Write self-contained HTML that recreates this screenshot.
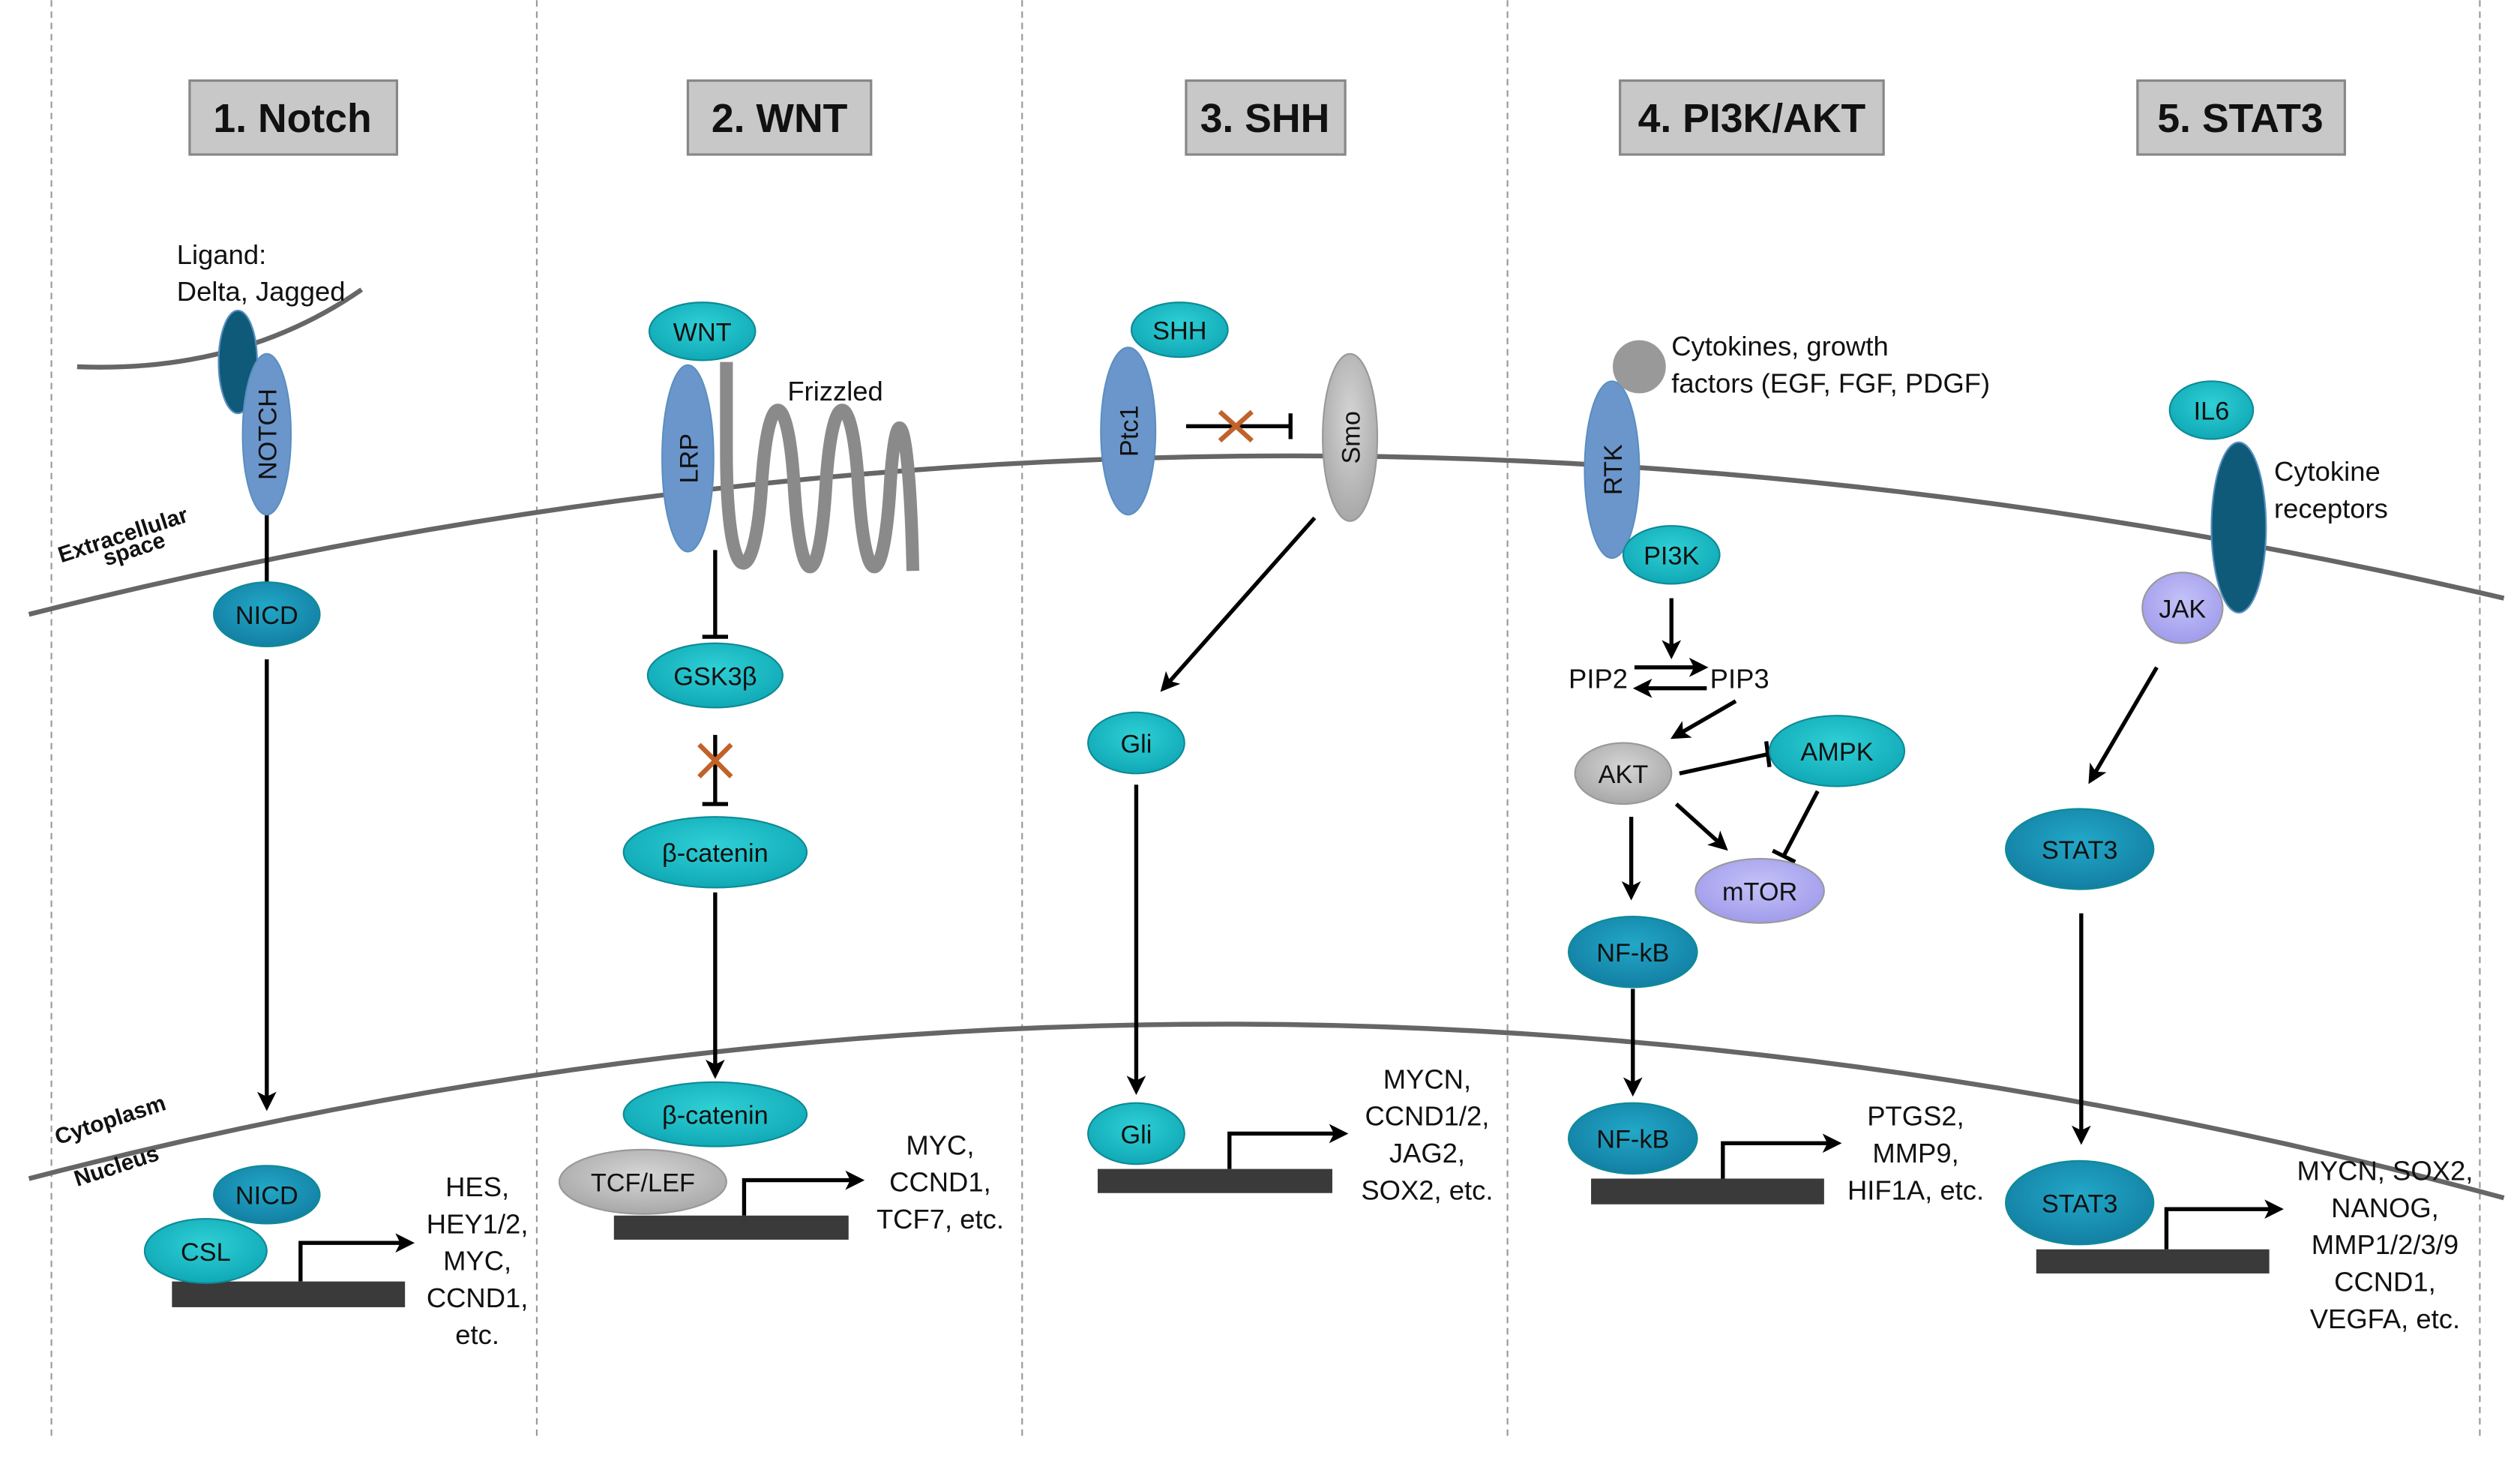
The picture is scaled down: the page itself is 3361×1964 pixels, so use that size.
<!DOCTYPE html>
<html><head><meta charset="utf-8"><style>
html,body{margin:0;padding:0;background:#fff;}
svg{display:block;}
text{font-family:"Liberation Sans",sans-serif;fill:#111;}
</style></head><body>
<svg width="3361" height="1964" viewBox="0 0 1568 916" xmlns="http://www.w3.org/2000/svg">
<defs>
<marker id="ar" markerWidth="14" markerHeight="14" refX="9" refY="6" orient="auto" markerUnits="userSpaceOnUse"><path d="M0,0 L12,6 L0,12 L3,6 z" fill="#000"/></marker>
<radialGradient id="teal" cx="50%" cy="40%" r="60%"><stop offset="0" stop-color="#2fd0d6"/><stop offset="1" stop-color="#10a9b6"/></radialGradient>
<radialGradient id="blue2" cx="50%" cy="40%" r="60%"><stop offset="0" stop-color="#22a8c8"/><stop offset="1" stop-color="#137fa3"/></radialGradient>
<radialGradient id="gray" cx="50%" cy="40%" r="60%"><stop offset="0" stop-color="#d6d6d6"/><stop offset="1" stop-color="#a8a8a8"/></radialGradient>
<radialGradient id="lav" cx="50%" cy="40%" r="60%"><stop offset="0" stop-color="#c4c2f8"/><stop offset="1" stop-color="#a09cec"/></radialGradient>
</defs>
<g stroke="#999" stroke-width="1" stroke-dasharray="4,3">
<line x1="32" y1="0" x2="32" y2="895"/><line x1="334" y1="0" x2="334" y2="895"/><line x1="636" y1="0" x2="636" y2="895"/><line x1="938" y1="0" x2="938" y2="895"/><line x1="1543" y1="0" x2="1543" y2="895"/>
</g>
<g fill="#c8c8c8" stroke="#888" stroke-width="1.5">
<rect x="118" y="50" width="129" height="46"/><rect x="428" y="50" width="114" height="46"/><rect x="738" y="50" width="99" height="46"/><rect x="1008" y="50" width="164" height="46"/><rect x="1330" y="50" width="129" height="46"/>
</g>
<g font-size="25" font-weight="bold" text-anchor="middle">
<text x="182" y="82">1. Notch</text><text x="485" y="82">2. WNT</text><text x="787" y="82">3. SHH</text><text x="1090" y="82">4. PI3K/AKT</text><text x="1394" y="82">5. STAT3</text>
</g>
<g fill="none" stroke="#666" stroke-width="3">
<path d="M18,382 Q780,190 1558,372"/>
<path d="M18,733 Q780,535 1558,745"/>
<path d="M48,228 Q150,232 225,180"/>
</g>
<g font-size="14" font-weight="bold">
<text transform="translate(38,350) rotate(-18)">Extracellular</text>
<text transform="translate(66,352) rotate(-18)">space</text>
<text transform="translate(36,712) rotate(-18)">Cytoplasm</text>
<text transform="translate(48,738) rotate(-18)">Nucleus</text>
</g>
<g stroke="#000" stroke-width="2.5" fill="none">
<line x1="166" y1="320" x2="166" y2="362"/>
<line x1="166" y1="410" x2="166" y2="688" marker-end="url(#ar)"/>
<path d="M187,797 V773 H255" marker-end="url(#ar)"/>
<line x1="445" y1="342" x2="445" y2="396"/><line x1="437" y1="396" x2="453" y2="396"/>
<line x1="445" y1="457" x2="445" y2="500"/><line x1="437" y1="500" x2="453" y2="500"/>
<line x1="445" y1="555" x2="445" y2="668" marker-end="url(#ar)"/>
<path d="M463,756 V734 H535" marker-end="url(#ar)"/>
<line x1="738" y1="265" x2="803" y2="265"/><line x1="803" y1="257" x2="803" y2="273"/>
<line x1="818" y1="322" x2="724" y2="428" marker-end="url(#ar)"/>
<line x1="707" y1="488" x2="707" y2="678" marker-end="url(#ar)"/>
<path d="M765,727 V705 H836" marker-end="url(#ar)"/>
<line x1="1040" y1="372" x2="1040" y2="407" marker-end="url(#ar)"/>
<line x1="1017" y1="415" x2="1060" y2="415" marker-end="url(#ar)"/>
<line x1="1062" y1="428" x2="1019" y2="428" marker-end="url(#ar)"/>
<line x1="1080" y1="436" x2="1042" y2="458" marker-end="url(#ar)"/>
<line x1="1045" y1="481" x2="1100" y2="469"/><line x1="1099" y1="461" x2="1101" y2="477"/>
<line x1="1131" y1="492" x2="1110" y2="532"/><line x1="1103" y1="529" x2="1117" y2="536"/>
<line x1="1043" y1="500" x2="1073" y2="527" marker-end="url(#ar)"/>
<line x1="1015" y1="508" x2="1015" y2="557" marker-end="url(#ar)"/>
<line x1="1016" y1="615" x2="1016" y2="679" marker-end="url(#ar)"/>
<path d="M1072,733 V711 H1143" marker-end="url(#ar)"/>
<line x1="1342" y1="415" x2="1301" y2="485" marker-end="url(#ar)"/>
<line x1="1295" y1="568" x2="1295" y2="709" marker-end="url(#ar)"/>
<path d="M1348,777 V752 H1418" marker-end="url(#ar)"/>
</g>
<g stroke="#c0622a" stroke-width="3">
<line x1="435" y1="463" x2="455" y2="483"/><line x1="455" y1="463" x2="435" y2="483"/>
<line x1="759" y1="256" x2="779" y2="274"/><line x1="779" y1="256" x2="759" y2="274"/>
</g>
<g fill="#3a3a3a">
<rect x="107" y="797" width="145" height="16"/><rect x="382" y="756" width="146" height="15"/><rect x="683" y="727" width="146" height="15"/><rect x="990" y="733" width="145" height="16"/><rect x="1267" y="777" width="145" height="15"/>
</g>
<path d="M452,225 L452,280 C452,370 470,370 474,300 C478,240 490,240 494,300 C498,370 510,370 514,300 C518,240 530,240 534,300 C538,370 550,370 554,300 C558,240 566,260 568,355" fill="none" stroke="#8a8a8a" stroke-width="8"/>
<g stroke="#5a8fc0" stroke-width="1">
<ellipse cx="148" cy="225" rx="12" ry="32" fill="#0f5a78"/>
<ellipse cx="166" cy="270" rx="15" ry="50" fill="#6b96cc"/>
<ellipse cx="428" cy="285" rx="16" ry="58" fill="#6b96cc"/>
<ellipse cx="702" cy="268" rx="17" ry="52" fill="#6b96cc"/>
<ellipse cx="1003" cy="292" rx="17" ry="55" fill="#6b96cc"/>
<ellipse cx="1393" cy="328" rx="17" ry="53" fill="#0f5a78"/>
</g>
<g stroke="#0e8a96" stroke-width="1">
<ellipse cx="166" cy="382" rx="33" ry="20" fill="url(#blue2)"/>
<ellipse cx="166" cy="743" rx="33" ry="18" fill="url(#blue2)"/>
<ellipse cx="128" cy="778" rx="38" ry="20" fill="url(#teal)"/>
<ellipse cx="437" cy="206" rx="33" ry="18" fill="url(#teal)"/>
<ellipse cx="445" cy="420" rx="42" ry="20" fill="url(#teal)"/>
<ellipse cx="445" cy="530" rx="57" ry="22" fill="url(#teal)"/>
<ellipse cx="445" cy="693" rx="57" ry="20" fill="url(#teal)"/>
<ellipse cx="734" cy="205" rx="30" ry="17" fill="url(#teal)"/>
<ellipse cx="707" cy="462" rx="30" ry="19" fill="url(#teal)"/>
<ellipse cx="707" cy="705" rx="30" ry="19" fill="url(#teal)"/>
<ellipse cx="1040" cy="345" rx="30" ry="18" fill="url(#teal)"/>
<ellipse cx="1143" cy="467" rx="42" ry="22" fill="url(#teal)"/>
<ellipse cx="1016" cy="592" rx="40" ry="22" fill="url(#blue2)"/>
<ellipse cx="1016" cy="708" rx="40" ry="22" fill="url(#blue2)"/>
<ellipse cx="1376" cy="255" rx="26" ry="18" fill="url(#teal)"/>
<ellipse cx="1294" cy="528" rx="46" ry="25" fill="url(#blue2)"/>
<ellipse cx="1294" cy="748" rx="46" ry="26" fill="url(#blue2)"/>
</g>
<g stroke="#999" stroke-width="1">
<ellipse cx="400" cy="735" rx="52" ry="20" fill="url(#gray)"/>
<ellipse cx="840" cy="272" rx="17" ry="52" fill="url(#gray)"/>
<circle cx="1020" cy="228" r="16" fill="#999"/>
<ellipse cx="1010" cy="481" rx="30" ry="19" fill="url(#gray)"/>
<ellipse cx="1095" cy="554" rx="40" ry="20" fill="url(#lav)"/>
<ellipse cx="1358" cy="378" rx="25" ry="22" fill="url(#lav)"/>
</g>
<g font-size="16" text-anchor="middle">
<text x="166" y="388">NICD</text><text x="166" y="749">NICD</text><text x="128" y="784">CSL</text>
<text x="437" y="212">WNT</text><text x="445" y="426">GSK3β</text><text x="445" y="536">β-catenin</text><text x="445" y="699">β-catenin</text><text x="400" y="741">TCF/LEF</text>
<text x="734" y="211">SHH</text><text x="707" y="468">Gli</text><text x="707" y="711">Gli</text>
<text x="1040" y="351">PI3K</text><text x="1143" y="473">AMPK</text><text x="1010" y="487">AKT</text><text x="1095" y="560">mTOR</text><text x="1016" y="598">NF-kB</text><text x="1016" y="714">NF-kB</text>
<text x="1376" y="261">IL6</text><text x="1358" y="384">JAK</text><text x="1294" y="534">STAT3</text><text x="1294" y="754">STAT3</text>
<text transform="translate(172,270) rotate(-90)">NOTCH</text>
<text transform="translate(434,285) rotate(-90)">LRP</text>
<text transform="translate(708,268) rotate(-90)">Ptc1</text>
<text transform="translate(846,272) rotate(-90)">Smo</text>
<text transform="translate(1009,292) rotate(-90)">RTK</text>
</g>
<g font-size="17">
<text x="110" y="164">Ligand:</text><text x="110" y="187">Delta, Jagged</text>
<text x="490" y="249">Frizzled</text>
<text x="1040" y="221">Cytokines, growth</text><text x="1040" y="244">factors (EGF, FGF, PDGF)</text>
<text x="976" y="428">PIP2</text><text x="1064" y="428">PIP3</text>
<text x="1415" y="299">Cytokine</text><text x="1415" y="322">receptors</text>
</g>
<g font-size="17" text-anchor="middle">
<text x="297" y="744">HES,</text><text x="297" y="767">HEY1/2,</text><text x="297" y="790">MYC,</text><text x="297" y="813">CCND1,</text><text x="297" y="836">etc.</text>
<text x="585" y="718">MYC,</text><text x="585" y="741">CCND1,</text><text x="585" y="764">TCF7, etc.</text>
<text x="888" y="677">MYCN,</text><text x="888" y="700">CCND1/2,</text><text x="888" y="723">JAG2,</text><text x="888" y="746">SOX2, etc.</text>
<text x="1192" y="700">PTGS2,</text><text x="1192" y="723">MMP9,</text><text x="1192" y="746">HIF1A, etc.</text>
<text x="1484" y="734">MYCN, SOX2,</text><text x="1484" y="757">NANOG,</text><text x="1484" y="780">MMP1/2/3/9</text><text x="1484" y="803">CCND1,</text><text x="1484" y="826">VEGFA, etc.</text>
</g>
</svg>
</body></html>
